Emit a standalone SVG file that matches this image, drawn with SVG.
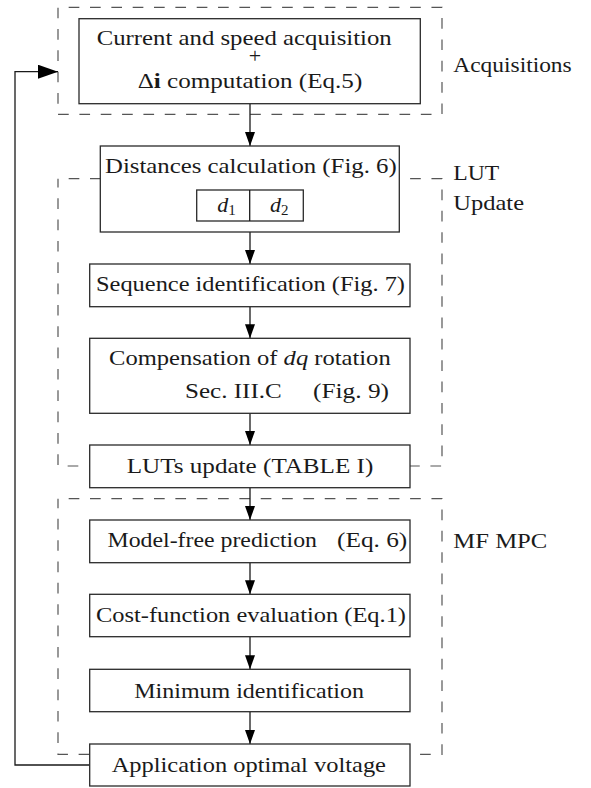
<svg xmlns="http://www.w3.org/2000/svg" width="591" height="788" viewBox="0 0 591 788">
<style>
  .grp { fill: none; stroke: #555; stroke-width: 1.2; stroke-dasharray: 10.67 10.67; stroke-dashoffset: 10.67; }
  .box { fill: #fff; stroke: #2a2a2a; stroke-width: 1.3; }
  .t { font-family: "Liberation Serif", "Times New Roman", serif; font-size: 22px; fill: #1a1a1a; }
  .conn { fill: none; stroke: #1a1a1a; stroke-width: 1.3; }
</style>
<defs>
  <marker id="arr" markerUnits="userSpaceOnUse" markerWidth="14" markerHeight="10" refX="14" refY="5" orient="auto">
    <path d="M0,0 L14,5 L0,10 z" fill="#000"/>
  </marker>
  <marker id="arrBig" markerUnits="userSpaceOnUse" markerWidth="20" markerHeight="14" refX="20" refY="7" orient="auto">
    <path d="M0,0 L20,7 L0,14 z" fill="#000"/>
  </marker>
</defs>

<g id="groups">
  <rect class="grp" x="58" y="7.3" width="384" height="107"/>
  <rect class="grp" x="58" y="178.7" width="384" height="287.3"/>
  <rect class="grp" x="58" y="498.7" width="384" height="255.6"/>
  <text class="t" x="453.3" y="71.7" textLength="118.4" lengthAdjust="spacingAndGlyphs">Acquisitions</text>
  <text class="t" x="453.3" y="180" textLength="46" lengthAdjust="spacingAndGlyphs">LUT</text>
  <text class="t" x="453.3" y="210" textLength="70.7" lengthAdjust="spacingAndGlyphs">Update</text>
  <text class="t" x="453.3" y="548.3" textLength="94" lengthAdjust="spacingAndGlyphs">MF MPC</text>
</g>

<g id="connectors">
  <line class="conn" x1="250" y1="103.7" x2="250" y2="146" marker-end="url(#arr)"/>
  <line class="conn" x1="250" y1="232" x2="250" y2="264" marker-end="url(#arr)"/>
  <line class="conn" x1="250" y1="306.7" x2="250" y2="338.3" marker-end="url(#arr)"/>
  <line class="conn" x1="250" y1="413.3" x2="250" y2="445" marker-end="url(#arr)"/>
  <line class="conn" x1="250" y1="487.7" x2="250" y2="520" marker-end="url(#arr)"/>
  <line class="conn" x1="250" y1="562.7" x2="250" y2="594.3" marker-end="url(#arr)"/>
  <line class="conn" x1="250" y1="636.7" x2="250" y2="669.3" marker-end="url(#arr)"/>
  <line class="conn" x1="250" y1="711.7" x2="250" y2="744" marker-end="url(#arr)"/>
  <polyline class="conn" points="89.7,765 15,765 15,71.7 58,71.7" marker-end="url(#arrBig)"/>
</g>

<g id="acq">
  <rect class="box" x="79" y="18.7" width="341.3" height="85"/>
  <text class="t"><tspan x="96.7" y="45" textLength="295" lengthAdjust="spacingAndGlyphs">Current and speed acquisition</tspan><tspan x="255" y="62.5" text-anchor="middle">+</tspan></text>
  <text class="t" x="137.7" y="88.3" textLength="224.6" lengthAdjust="spacingAndGlyphs">Δ<tspan font-weight="bold">i</tspan> computation (Eq.5)</text>
</g>

<g id="distances">
  <rect class="box" x="100.3" y="146" width="299" height="86"/>
  <text class="t" x="105" y="173.3" textLength="291.7" lengthAdjust="spacingAndGlyphs">Distances calculation (Fig. 6)</text>
  <rect class="box" x="196.7" y="190" width="106.6" height="31"/>
  <line class="conn" x1="249.7" y1="190" x2="249.7" y2="221"/>
  <text class="t" x="217.3" y="211.7" font-style="italic">d<tspan font-size="15" font-style="normal" dy="3.5">1</tspan></text>
  <text class="t" x="270" y="211.7" font-style="italic">d<tspan font-size="15" font-style="normal" dy="3.5">2</tspan></text>
</g>

<g id="sequence">
  <rect class="box" x="89.7" y="264" width="320.3" height="42.7"/>
  <text class="t" x="96" y="291" textLength="309" lengthAdjust="spacingAndGlyphs">Sequence identification (Fig. 7)</text>
</g>

<g id="compensation">
  <rect class="box" x="89.7" y="338.3" width="320.3" height="75"/>
  <text class="t" x="109" y="365" textLength="281.7" lengthAdjust="spacingAndGlyphs">Compensation of <tspan font-style="italic">dq</tspan> rotation</text>
  <text class="t" x="185" y="398.3" textLength="96.7" lengthAdjust="spacingAndGlyphs">Sec. III.C</text>
  <text class="t" x="313" y="398.3" textLength="76" lengthAdjust="spacingAndGlyphs">(Fig. 9)</text>
</g>

<g id="luts">
  <rect class="box" x="89.7" y="445" width="320.3" height="42.7"/>
  <text class="t" x="126.7" y="472.7" textLength="246.6" lengthAdjust="spacingAndGlyphs">LUTs update (TABLE I)</text>
</g>

<g id="modelfree">
  <rect class="box" x="89.7" y="520" width="320.3" height="42.7"/>
  <text class="t" x="107.5" y="547" textLength="209.5" lengthAdjust="spacingAndGlyphs">Model-free prediction</text>
  <text class="t" x="337" y="547" textLength="70.3" lengthAdjust="spacingAndGlyphs">(Eq. 6)</text>
</g>

<g id="costfunction">
  <rect class="box" x="89.7" y="594.3" width="320.3" height="42.4"/>
  <text class="t" x="96" y="621.5" textLength="310" lengthAdjust="spacingAndGlyphs">Cost-function evaluation (Eq.1)</text>
</g>

<g id="minimum">
  <rect class="box" x="89.7" y="669.3" width="320.3" height="42.4"/>
  <text class="t" x="134.3" y="697.5" textLength="229.7" lengthAdjust="spacingAndGlyphs">Minimum identification</text>
</g>

<g id="application">
  <rect class="box" x="89.7" y="744" width="320.3" height="42"/>
  <text class="t" x="111.7" y="771.5" textLength="274.3" lengthAdjust="spacingAndGlyphs">Application optimal voltage</text>
</g>
</svg>
